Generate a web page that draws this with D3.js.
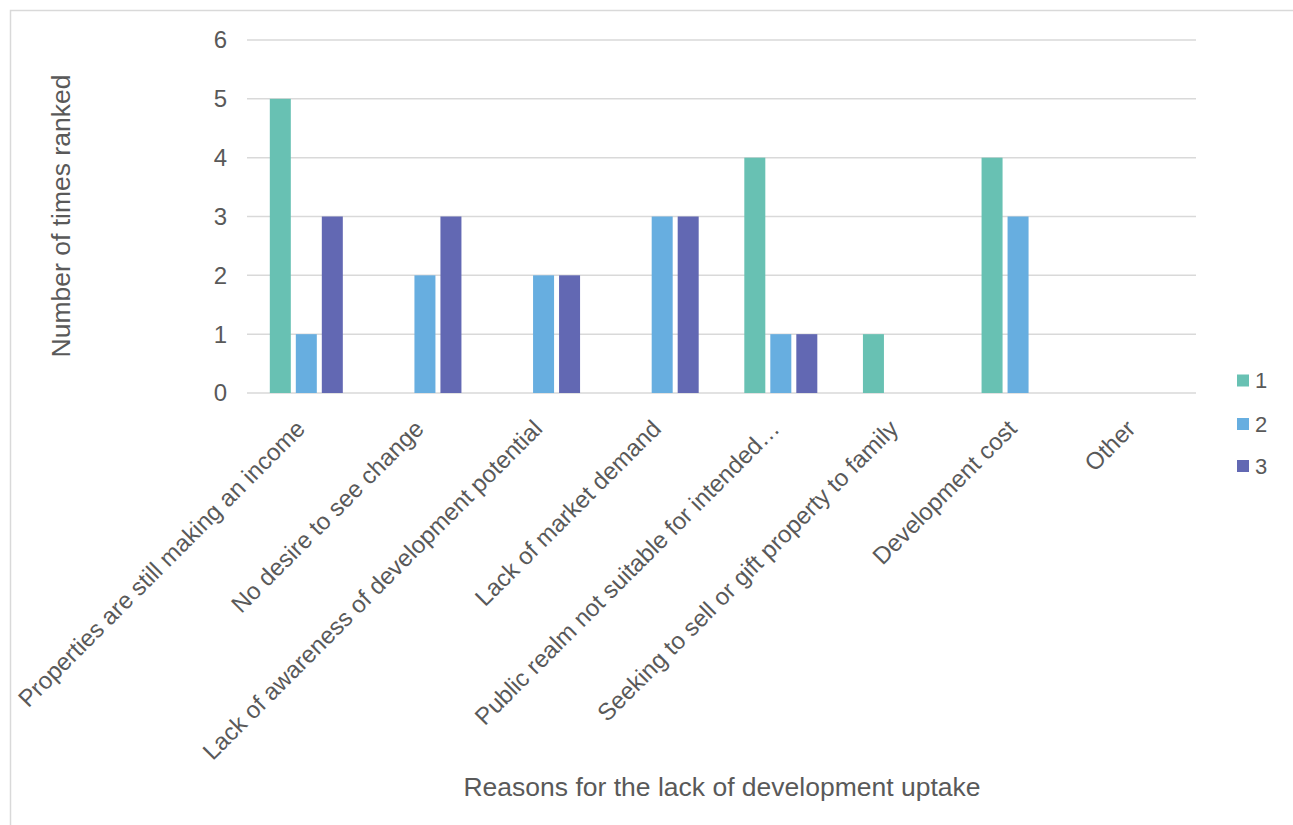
<!DOCTYPE html>
<html>
<head>
<meta charset="utf-8">
<script src="https://cdn.jsdelivr.net/npm/d3@7"></script>
<style>
  html, body { margin: 0; padding: 0; background: #fff; }
  svg { display: block; font-family: "Liberation Sans", Arial, sans-serif; }
</style>
</head>
<body>
<svg id="chart" width="1293" height="825"></svg>
<script>
const categories = [
  "Properties are still making an income",
  "No desire to see change",
  "Lack of awareness of development potential",
  "Lack of market demand",
  "Public realm not suitable for intended…",
  "Seeking to sell or gift property to family",
  "Development cost",
  "Other"
];
const seriesNames = ["1", "2", "3"];
const rank1 = [5, 0, 0, 0, 4, 1, 4, 0];
const rank2 = [1, 2, 2, 3, 1, 0, 3, 0];
const rank3 = [3, 3, 2, 3, 1, 0, 0, 0];
const yTicks = [0, 1, 2, 3, 4, 5, 6];
const colors = ["#68C1B3", "#67AEE0", "#6268B3"];

const seriesValues = [rank1, rank2, rank3];
const svg = d3.select("#chart");
const textColor = "#595959";
const gridColor = "#d9d9d9";

// chart border
svg.append("rect").attr("x", 10.5).attr("y", 10.5).attr("width", 1300).attr("height", 840)
  .attr("fill", "none").attr("stroke", gridColor).attr("stroke-width", 1.5);

const plot = { left: 247, right: 1196, top: 40, bottom: 393 };

const x = d3.scaleBand().domain(categories).range([plot.left, plot.right]).padding(0);
const y = d3.scaleLinear().domain([0, 6]).range([plot.bottom, plot.top]);

const barW = 21, barStep = 26;

// gridlines
svg.append("g").selectAll("line").data(yTicks).join("line")
  .attr("x1", plot.left).attr("x2", plot.right)
  .attr("y1", d => y(d)).attr("y2", d => y(d))
  .attr("stroke", gridColor).attr("stroke-width", 1.5);

// y tick labels
svg.append("g").selectAll("text").data(yTicks).join("text")
  .attr("x", 227).attr("y", d => y(d)).attr("dy", "0.35em")
  .attr("text-anchor", "end").attr("font-size", 24).attr("fill", textColor)
  .text(d => d);

// bars
const groups = svg.append("g").selectAll("g").data(seriesNames).join("g")
  .attr("fill", (d, i) => colors[i]);
groups.selectAll("rect").data((s, i) => categories.map((c, j) => ({ c, s, v: seriesValues[i][j] })))
  .join("rect")
  .attr("x", d => x(d.c) + x.bandwidth() / 2 + (seriesNames.indexOf(d.s) - 1) * barStep - barW / 2)
  .attr("width", barW)
  .attr("y", d => y(d.v))
  .attr("height", d => y(0) - y(d.v));

// x category labels
svg.append("g").selectAll("text").data(categories).join("text")
  .attr("transform", d => `translate(${x(d) + x.bandwidth() / 2 - 12},${plot.bottom + 25}) rotate(-45)`)
  .attr("text-anchor", "end").attr("dy", "0.72em")
  .attr("font-size", 24).attr("fill", textColor)
  .text(d => d);

// axis titles
svg.append("text")
  .attr("transform", `translate(70,216) rotate(-90)`)
  .attr("text-anchor", "middle").attr("font-size", 26.5).attr("fill", textColor)
  .text("Number of times ranked");
svg.append("text")
  .attr("x", 722).attr("y", 796)
  .attr("text-anchor", "middle").attr("font-size", 26.5).attr("fill", textColor)
  .text("Reasons for the lack of development uptake");

// legend
const legendY = [380.5, 424, 466];
const legend = svg.append("g").selectAll("g").data(seriesNames).join("g")
  .attr("transform", (d, i) => `translate(1237,${legendY[i]})`);
legend.append("rect").attr("x", 0).attr("y", -6).attr("width", 12).attr("height", 12)
  .attr("fill", (d, i) => colors[i]);
legend.append("text").attr("x", 18).attr("y", 0).attr("dy", "0.36em")
  .attr("font-size", 22).attr("fill", textColor).text(d => d);
</script>
</body>
</html>
